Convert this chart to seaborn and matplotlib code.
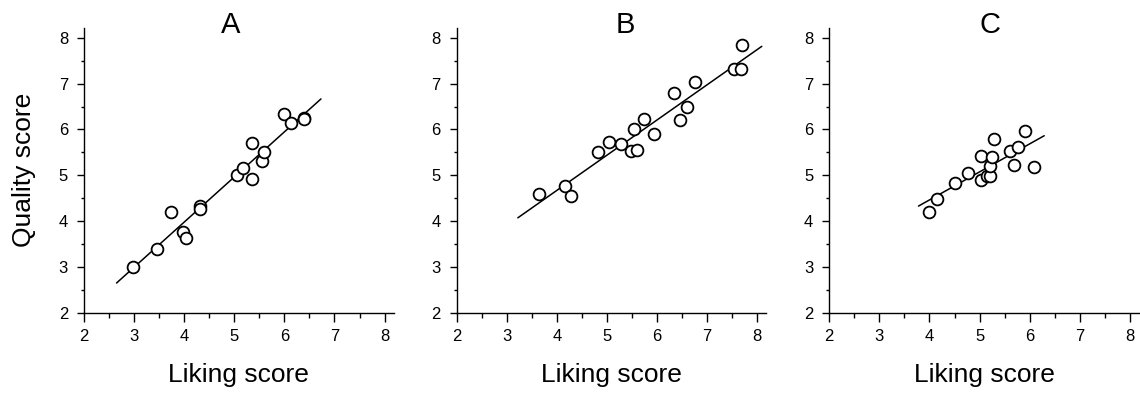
import numpy as np
import pandas as pd
import matplotlib
matplotlib.use("Agg")
import matplotlib.pyplot as plt
import seaborn as sns
from matplotlib.ticker import MultipleLocator

sns.set_theme(style="ticks")
plt.rcParams['font.family'] = ['Liberation Sans', 'DejaVu Sans']

# ---------------- data ----------------
panels = ["A", "B", "C"]

a_liking = [2.98, 3.45, 3.73, 3.97, 4.04, 4.31, 4.31, 5.05, 5.17, 5.36, 5.36, 5.55, 5.59, 6.00, 6.13, 6.39, 6.39]
a_quality = [3.00, 3.40, 4.20, 3.77, 3.64, 4.32, 4.26, 5.01, 5.16, 5.70, 4.92, 5.31, 5.50, 6.33, 6.15, 6.26, 6.22]

b_liking = [3.64, 4.17, 4.29, 4.83, 5.04, 5.27, 5.48, 5.60, 5.53, 5.73, 5.93, 6.33, 6.45, 6.59, 6.75, 7.53, 7.67, 7.70]
b_quality = [4.60, 4.77, 4.55, 5.50, 5.72, 5.69, 5.53, 5.56, 6.01, 6.23, 5.91, 6.80, 6.20, 6.50, 7.03, 7.31, 7.31, 7.84]

c_liking = [3.99, 4.15, 4.51, 4.77, 5.03, 5.03, 5.15, 5.21, 5.20, 5.25, 5.28, 5.60, 5.69, 5.77, 5.91, 6.09]
c_quality = [4.20, 4.49, 4.84, 5.05, 5.43, 4.89, 4.98, 4.98, 5.21, 5.40, 5.79, 5.53, 5.23, 5.62, 5.96, 5.18]

# x-extent of each drawn fit line (liking score)
fit_x_start = [2.65, 3.22, 3.78]
fit_x_end = [6.73, 8.09, 6.29]

liking = [a_liking, b_liking, c_liking]
quality = [a_quality, b_quality, c_quality]

tick_values = [2, 3, 4, 5, 6, 7, 8]
x_label = "Liking score"
y_label = "Quality score"

# ---------------- layout ----------------
W, H = 1140, 399
fig = plt.figure(figsize=(W / 100, H / 100), dpi=100)
lefts_px = [84, 456.7, 829.3]
ax_w = 309.6 / W
ax_h = 285 / H
ax_b = (H - 312.7) / H
title_x = [0.472, 0.545, 0.520]

for i, name in enumerate(panels):
    ax = fig.add_axes([lefts_px[i] / W, ax_b, ax_w, ax_h])
    df = pd.DataFrame({"liking": liking[i], "quality": quality[i]})

    # linear fit computed from the data, drawn over the reference's extent
    slope, intercept = np.polyfit(df["liking"], df["quality"], 1)
    fx = np.array([fit_x_start[i], fit_x_end[i]])
    fit_df = pd.DataFrame({"liking": fx, "quality": intercept + slope * fx})
    sns.lineplot(data=fit_df, x="liking", y="quality", ax=ax, color="black",
                 linewidth=1.1, zorder=2)

    sns.scatterplot(data=df, x="liking", y="quality", ax=ax, s=72,
                    facecolor="white", edgecolor="black", linewidth=1.3,
                    zorder=3)

    ax.set_xlim(2, 8.18)
    ax.set_ylim(2, 8.22)
    ax.set_xticks(tick_values)
    ax.set_yticks(tick_values)
    ax.xaxis.set_minor_locator(MultipleLocator(0.5))
    ax.yaxis.set_minor_locator(MultipleLocator(0.5))
    ax.tick_params(axis="x", which="major", direction="out", length=6.5, width=1.0,
                   pad=5.5, labelsize=12, color="black", labelcolor="black")
    ax.tick_params(axis="x", which="minor", direction="out", length=3.3, width=1.0,
                   color="black")
    ax.tick_params(axis="y", which="major", direction="out", length=5.0, width=1.0,
                   pad=6.5, labelsize=12, color="black", labelcolor="black")
    ax.tick_params(axis="y", which="minor", direction="out", length=2.5, width=1.0,
                   color="black")
    for side in ["top", "right"]:
        ax.spines[side].set_visible(False)
    for side in ["left", "bottom"]:
        ax.spines[side].set_color("black")
        ax.spines[side].set_linewidth(1.0)

    ax.set_xlabel(x_label, fontsize=19, color="black")
    ax.xaxis.set_label_coords(0.5, -0.178)
    ax.xaxis.label.set_va("top")
    if i == 0:
        ax.set_ylabel(y_label, fontsize=19, color="black")
        ax.yaxis.set_label_coords(-0.155, 0.5)
    else:
        ax.set_ylabel("")
    ax.set_title(name, fontsize=21, x=title_x[i], y=0.982, pad=0, color="black")
    ax.patch.set_visible(False)

fig.savefig("out.png", dpi=100)
